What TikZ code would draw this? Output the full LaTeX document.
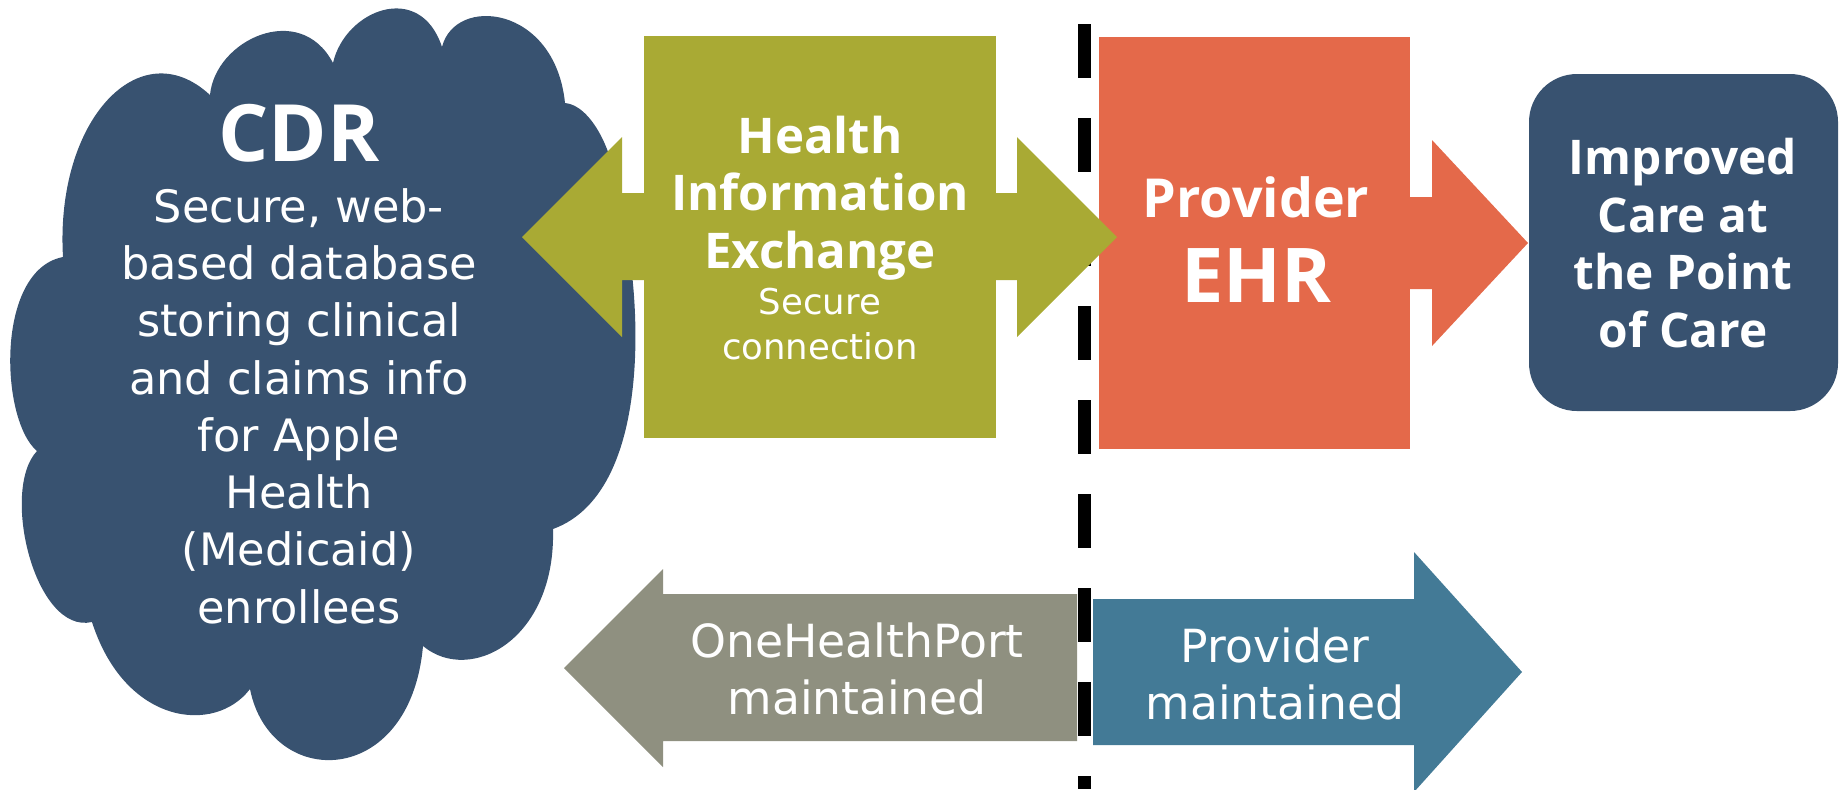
\documentclass[tikz,border=0pt]{standalone}
\usepackage{fontspec}
\setmainfont{DejaVu Sans}
\newfontfamily\headfont{Open Sans}
\definecolor{cdrblue}{HTML}{385270}
\definecolor{hieolive}{HTML}{A9AA34}
\definecolor{ehrorange}{HTML}{E4694A}
\definecolor{ohpgray}{HTML}{8F9080}
\definecolor{provteal}{HTML}{437A96}

\begin{document}
\begin{tikzpicture}[x=0.1mm,y=-0.1mm,
        lbl/.style={text=white,align=center,inner sep=0pt},
        boldlbl/.style 2 args={lbl,font=\headfont\bfseries\fontsize{#1}{#2}\selectfont},
        plainlbl/.style 2 args={lbl,font=\fontsize{#1}{#2}\selectfont}]
    \useasboundingbox (0,0) rectangle (1843,789);
        % --- Divider ---
        \coordinate (divtop) at (1084,24);
        \coordinate (divbot) at (1084,789);
        \draw[line width=1.3mm,dash pattern=on 5.4mm off 4mm] (divtop) -- (divbot);
        % --- CDR cloud ---
        \fill[cdrblue] (63,257)
            .. controls (55,120) and (140,30) .. (210,95)
            .. controls (215,40) and (300,0) .. (333,63)
            .. controls (345,10) and (420,-20) .. (442,47)
            .. controls (455,-5) and (555,5) .. (565,103)
            .. controls (590,105) and (615,150) .. (618,200)
            .. controls (640,270) and (660,490) .. (553,529)
            .. controls (556,640) and (470,685) .. (423,646)
            .. controls (410,790) and (270,790) .. (250,689)
            .. controls (215,735) and (125,725) .. (92,622)
            .. controls (35,635) and (0,490) .. (37,451)
            .. controls (0,420) and (-5,270) .. (63,257) -- cycle;
        \node[boldlbl={22.5}{26}] (cdr) at (299,133) {CDR};
        \node[plainlbl={12.7}{16.3}] (cdrtext) at (299,406)
            {Secure, web-\\based database\\storing clinical\\and claims info\\for Apple\\Health\\(Medicaid)\\enrollees};
        % --- Provider EHR ---
        \fill[ehrorange] (1350,197) -- (1432,197) -- (1432,140) -- (1528,243)
            -- (1432,346) -- (1432,289) -- (1350,289) -- cycle;
        \fill[ehrorange] (1099,37) rectangle (1410,449);
        \node[boldlbl={15.3}{18}] (prov) at (1256,197) {Provider};
        \node[boldlbl={21.5}{25}] (ehr) at (1256,276) {EHR};
        % --- Improved care ---
        \fill[cdrblue,rounded corners=4.8mm] (1529,74) rectangle (1838,411);
        \node[boldlbl={13.6}{16.4}] (care) at (1683,243) {Improved\\Care at\\the Point\\of Care};
        % --- Health Information Exchange ---
        \fill[hieolive] (522,237) -- (622,137) -- (622,193) -- (1017,193) -- (1017,137)
            -- (1117,237) -- (1017,337) -- (1017,280) -- (622,280) -- (622,337) -- cycle;
        \fill[hieolive] (644,36) rectangle (996,438);
        \node[boldlbl={14}{16.35}] (hie) at (820,198) {Health\\Information\\Exchange};
        \node[plainlbl={10.1}{12.8}] (hiesub) at (820,324) {Secure\\connection};
        % --- Maintained by ---
        \fill[ohpgray] (564,668) -- (663,569) -- (663,594) -- (1077,594)
            -- (1077,741) -- (663,741) -- (663,767) -- cycle;
        \fill[provteal] (1093,599) -- (1414,599) -- (1414,552) -- (1522,672)
            -- (1414,792) -- (1414,745) -- (1093,745) -- cycle;
        \node[plainlbl={13}{16.2}] (ohp) at (857,669) {OneHealthPort\\maintained};
        \node[plainlbl={13}{16.2}] (provm) at (1275,674) {Provider\\maintained};
    \end{tikzpicture}
\end{document}
